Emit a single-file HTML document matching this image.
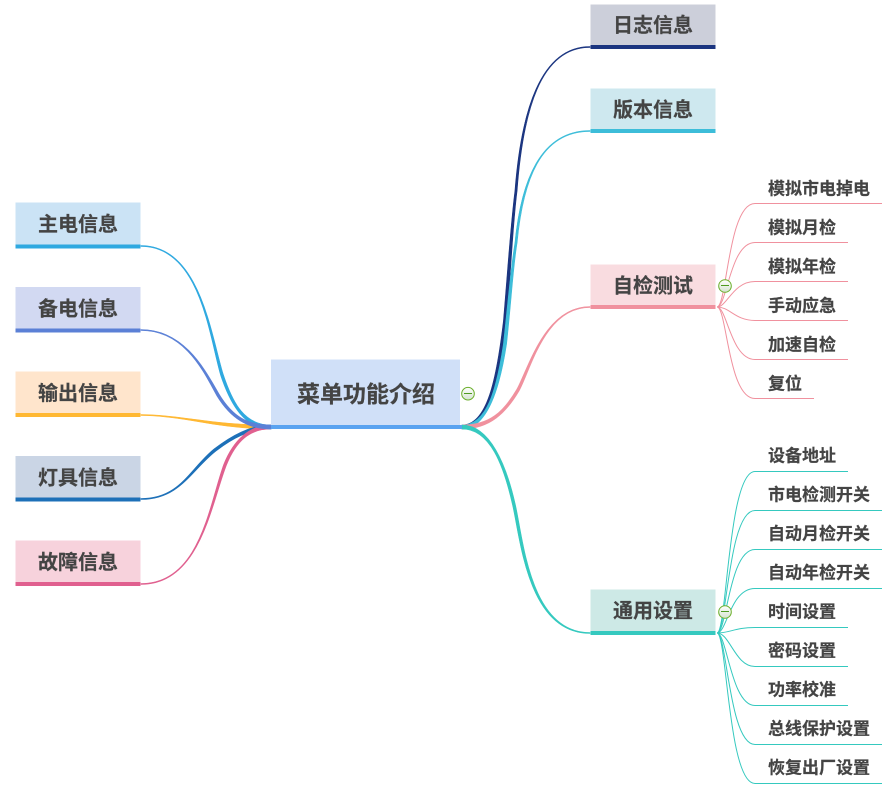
<!DOCTYPE html>
<html lang="zh">
<head>
<meta charset="utf-8">
<title>菜单功能介绍</title>
<style>
html,body{margin:0;padding:0;background:#fff;}
svg{display:block;}
text{font-family:"Liberation Sans","Noto Sans CJK SC",sans-serif;font-weight:700;fill:#444;stroke:#444;stroke-width:.2;}
.b{font-size:20px;text-anchor:middle;}
.s{font-size:17px;}
.p{fill:none;stroke:#F0919E;stroke-width:1;}
.t{fill:none;stroke:#35C9BF;stroke-width:1;}
.m path{stroke-width:.6;stroke-linejoin:round;}
</style>
</head>
<body>
<svg width="891" height="786" viewBox="0 0 891 786" xmlns="http://www.w3.org/2000/svg">
<defs>
<linearGradient id="g" x1="0" y1="0" x2="0" y2="1"><stop offset="0" stop-color="#fff"/><stop offset="1" stop-color="#d5e3d0"/></linearGradient>
</defs>
<rect width="891" height="786" fill="#fff"/>

<g class="m">
<!-- left connectors -->
<path fill="#FFB833" stroke="#FFB833" d="M271 425C250 425 225 423.5 200 420C180 417.5 160 414.5 141 414.5L141 415.5C160 415.5 180 418.5 200 422C225 426.5 250 429 271 429Z"/>
<path fill="#1D70B8" stroke="#1D70B8" d="M271 425C250 425 231 436 214 449C189 469.5 180 498.5 141 498.5L141 499.5C180 499.5 191 470.5 216 451C233 438 250 429 271 429Z"/>
<path fill="#E0608F" stroke="#E0608F" d="M271 425C250 425 233.7 439.5 223.7 464.5C209 505 200 583.5 141 583.5L141 584.5C200 584.5 211 505 226.3 465.5C236.3 440.5 250 429 271 429Z"/>
<path fill="#2FA9E0" stroke="#2FA9E0" d="M271 425C245 425 233.3 404.5 223.3 374.5C211 334.7 200 245.5 141 245.5L141 246.5C200 246.5 209 335.3 220.7 375.5C230.7 405.5 245 429 271 429Z"/>
<path fill="#5B80D6" stroke="#5B80D6" d="M271 425C248 425 233.2 417.3 219.2 394.3C206 371.5 185 329.5 141 329.5L141 330.5C185 330.5 204 372.5 216.8 395.7C230.8 418.7 248 429 271 429Z"/>

<!-- right connectors -->
<path fill="#1B3580" stroke="#1B3580" d="M462 425C487 425 496.4 380 503.4 321C508.4 261 510.9 222 514.9 191C521 112 540 46.5 590 46.5L590 47.5C540 47.5 523 112 517.1 191C513.1 222 511.6 261 506.6 321C499.6 380 487 429 462 429Z"/>
<path fill="#3DBDD9" stroke="#3DBDD9" d="M462 425C487 425 496.4 390 503.4 344C508.4 298 510.9 267 514.9 243C521 181 540 130.5 590 130.5L590 131.5C540 131.5 523 181 517.1 243C513.1 267 511.6 298 506.6 344C499.6 390 487 429 462 429Z"/>
<path fill="#F0919E" stroke="#F0919E" d="M462 425C490 425 503.8 411.3 516.8 389.3C528.8 367.3 545 306.5 590 306.5L590 307.5C545 307.5 531.2 368.7 519.2 390.7C506.2 412.7 490 429 462 429Z"/>
<path fill="#35C9BF" stroke="#35C9BF" d="M462 425C490 425 506.4 464.7 515.4 504.7C523.4 539.7 530 632.5 590 632.5L590 633.5C528 633.5 520.6 540.3 512.6 505.3C503.6 465.3 490 429 462 429Z"/>
</g>

<!-- pink sub-branches -->
<g>
<path class="p" d="M717 307C727 307 728 203.5 755 203.5L882 203.5"/>
<path class="p" d="M717 307C727 307 730 242.5 755 242.5L848 242.5"/>
<path class="p" d="M717 307C727 307 733 281.5 755 281.5L848 281.5"/>
<path class="p" d="M717 307C730 307 735 320.5 755 320.5L848 320.5"/>
<path class="p" d="M717 307C727 307 731 359.5 755 359.5L848 359.5"/>
<path class="p" d="M717 307C727 307 728 398.5 755 398.5L814 398.5"/>
</g>
<!-- teal sub-branches -->
<g>
<path class="t" d="M717 633C727 633 728 471.5 755 471.5L848 471.5"/>
<path class="t" d="M717 633C727 633 728 510.5 755 510.5L882 510.5"/>
<path class="t" d="M717 633C727 633 729 549.5 755 549.5L882 549.5"/>
<path class="t" d="M717 633C727 633 730 588.5 755 588.5L882 588.5"/>
<path class="t" d="M717 633C730 633 735 627.5 755 627.5L848 627.5"/>
<path class="t" d="M717 633C730 633 735 666.5 755 666.5L848 666.5"/>
<path class="t" d="M717 633C727 633 731 705.5 755 705.5L848 705.5"/>
<path class="t" d="M717 633C727 633 729 744.5 755 744.5L882 744.5"/>
<path class="t" d="M717 633C727 633 728 783.5 755 783.5L882 783.5"/>
</g>

<!-- center -->
<rect x="271" y="359.5" width="189" height="67" fill="#D0E0F8"/>
<rect x="271" y="425" width="191" height="4" fill="#5AA3F0"/>
<text x="366" y="402" style="font-size:23px;text-anchor:middle">菜单功能介绍</text>

<!-- left boxes -->
<rect x="15.5" y="202.5" width="125" height="43" fill="#CBE3F5"/><rect x="15.5" y="244.5" width="125" height="4" fill="#2FA9E0"/>
<rect x="15.5" y="287" width="125" height="43" fill="#D2D9F2"/><rect x="15.5" y="328.5" width="125" height="4" fill="#5B80D6"/>
<rect x="15.5" y="371.5" width="125" height="43" fill="#FFE5CC"/><rect x="15.5" y="413" width="125" height="4" fill="#FFB833"/>
<rect x="15.5" y="456" width="125" height="43" fill="#CAD5E5"/><rect x="15.5" y="497.5" width="125" height="4" fill="#1D70B8"/>
<rect x="15.5" y="540.5" width="125" height="43" fill="#F7D2DC"/><rect x="15.5" y="582" width="125" height="4" fill="#E0608F"/>
<text class="b" x="78" y="231">主电信息</text>
<text class="b" x="78" y="315.5">备电信息</text>
<text class="b" x="78" y="400">输出信息</text>
<text class="b" x="78" y="484.5">灯具信息</text>
<text class="b" x="78" y="569">故障信息</text>

<!-- right boxes -->
<rect x="590.5" y="4.5" width="125" height="43" fill="#CCCFDA"/><rect x="590.5" y="45" width="125" height="4" fill="#1B3580"/>
<rect x="590.5" y="88.5" width="125" height="43" fill="#CEE8EF"/><rect x="590.5" y="129" width="125" height="4" fill="#3DBDD9"/>
<rect x="590.5" y="264.5" width="125" height="43" fill="#F9DCE0"/><rect x="590.5" y="305" width="125" height="4" fill="#F0919E"/>
<rect x="590.5" y="589.5" width="125" height="43" fill="#CDE9E6"/><rect x="590.5" y="631" width="125" height="4" fill="#35C9BF"/>
<text class="b" x="653" y="32">日志信息</text>
<text class="b" x="653" y="116.5">版本信息</text>
<text class="b" x="653" y="292.5">自检测试</text>
<text class="b" x="653" y="617.5">通用设置</text>

<!-- sub labels -->
<text class="s" x="768" y="194.5">模拟市电掉电</text>
<text class="s" x="768" y="233.5">模拟月检</text>
<text class="s" x="768" y="272.5">模拟年检</text>
<text class="s" x="768" y="311.5">手动应急</text>
<text class="s" x="768" y="350.5">加速自检</text>
<text class="s" x="768" y="389.5">复位</text>
<text class="s" x="768" y="461.5">设备地址</text>
<text class="s" x="768" y="500.5">市电检测开关</text>
<text class="s" x="768" y="539.5">自动月检开关</text>
<text class="s" x="768" y="578.5">自动年检开关</text>
<text class="s" x="768" y="617.5">时间设置</text>
<text class="s" x="768" y="656.5">密码设置</text>
<text class="s" x="768" y="695.5">功率校准</text>
<text class="s" x="768" y="734.5">总线保护设置</text>
<text class="s" x="768" y="773.5">恢复出厂设置</text>

<!-- collapse icons -->
<g fill="url(#g)" stroke="#6BAF2B" stroke-width="1">
<circle cx="468" cy="393.7" r="6.3"/>
<circle cx="725" cy="286" r="6.3"/>
<circle cx="725" cy="612" r="6.3"/>
</g>
<g stroke="#4E9A20" stroke-width="1">
<path d="M464 393.5H472"/>
<path d="M721 285.5H729"/>
<path d="M721 611.5H729"/>
</g>
</svg>
</body>
</html>
